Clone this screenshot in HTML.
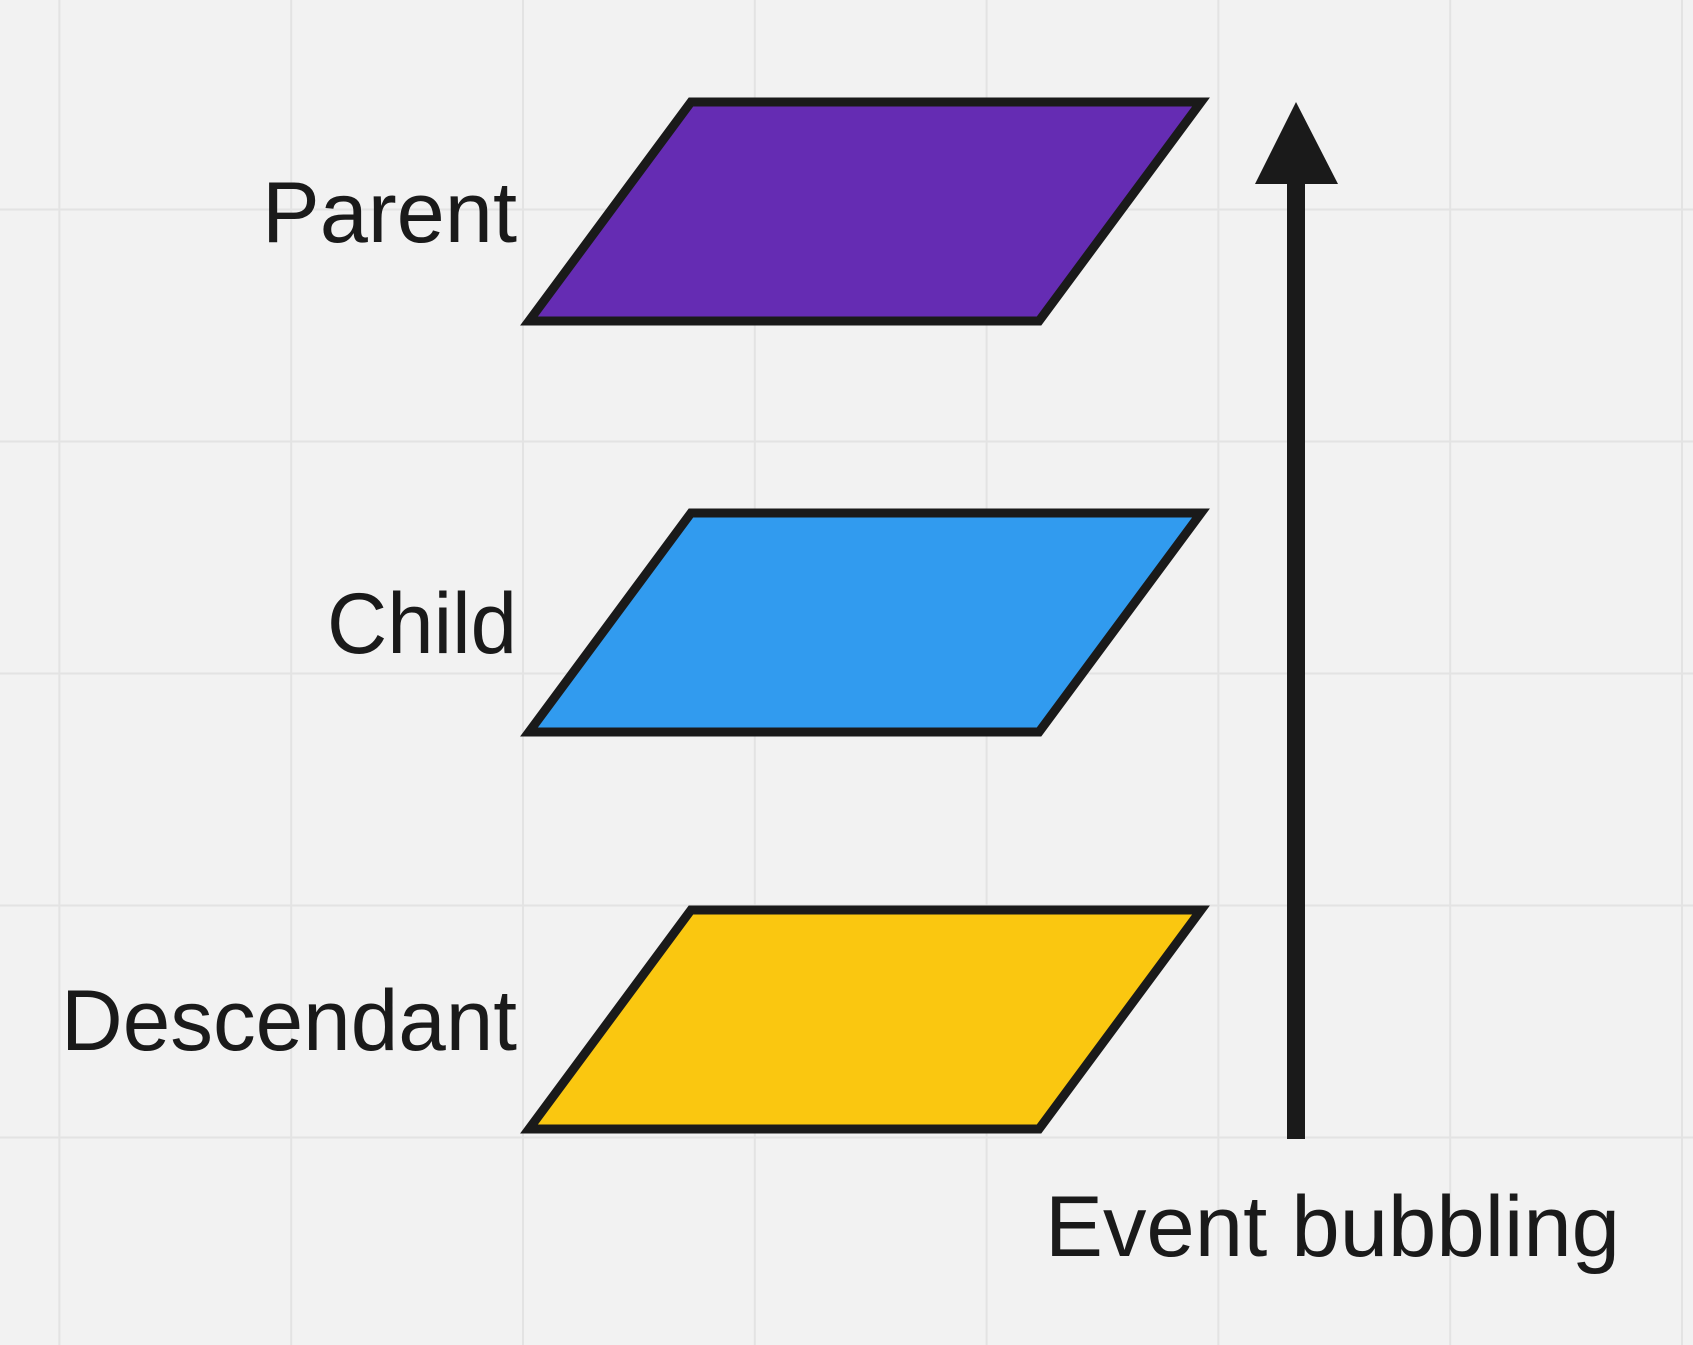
<!DOCTYPE html>
<html>
<head>
<meta charset="utf-8">
<style>
  html,body{margin:0;padding:0;background:#f2f2f2;}
  svg{display:block;}
  text{font-family:"Liberation Sans","DejaVu Sans",sans-serif;fill:#1a1a1a;}
</style>
</head>
<body>
<svg id="chart" width="1693" height="1345" viewBox="0 0 1693 1345" xmlns="http://www.w3.org/2000/svg">
  <rect x="0" y="0" width="1693" height="1345" fill="#f2f2f2"/>
  <g id="grid"></g>
  <g id="layers"></g>
  <g id="arrow">
    <rect x="1287" y="180" width="18" height="959" fill="#1a1a1a"/>
    <polygon points="1296,102 1255,184 1338,184" fill="#1a1a1a"/>
  </g>
  <text x="1045" y="1256" font-size="86" textLength="575" lengthAdjust="spacingAndGlyphs">Event bubbling</text>
</svg>
<script>
const layerNames = ["Parent", "Child", "Descendant"];
const layerColors = ["#652cb3", "#319bef", "#fac710"];
const layerTops = [102, 513, 910];
const labelWidths = [255, 190, 456];

const NS = "http://www.w3.org/2000/svg";
const grid = document.getElementById("grid");
for (let i = 0; i < 8; i++) {
  const x = 59.4 + i * 231.8;
  const l = document.createElementNS(NS, "line");
  
  
  l.setAttribute("x1", x); l.setAttribute("x2", x);
  l.setAttribute("y1", 0); l.setAttribute("y2", 1345);
  l.setAttribute("stroke", "#e3e3e3"); l.setAttribute("stroke-width", "2");
  grid.appendChild(l);
}
for (let i = 0; i < 6; i++) {
  const y = 209.5 + i * 232;
  const l = document.createElementNS(NS, "line");
  
  
  l.setAttribute("x1", 0); l.setAttribute("x2", 1693);
  l.setAttribute("y1", y); l.setAttribute("y2", y);
  l.setAttribute("stroke", "#e3e3e3"); l.setAttribute("stroke-width", "2");
  grid.appendChild(l);
}
const layers = document.getElementById("layers");
const H = 219;
layerNames.forEach((name, i) => {
  const t = layerTops[i], b = t + H;
  const p = document.createElementNS(NS, "polygon");
  
  
  p.setAttribute("points", `691,${t} 1201,${t} 1039,${b} 529,${b}`);
  p.setAttribute("fill", layerColors[i]);
  p.setAttribute("stroke", "#1a1a1a");
  p.setAttribute("stroke-width", "9");
  layers.appendChild(p);
  const tx = document.createElementNS(NS, "text");
  
  
  tx.setAttribute("x", 517 - labelWidths[i]);
  tx.setAttribute("y", t + 140);
  tx.setAttribute("font-size", "86");
  tx.setAttribute("textLength", labelWidths[i]);
  tx.setAttribute("lengthAdjust", "spacingAndGlyphs");
  tx.textContent = name;
  layers.appendChild(tx);
});
</script>
</body>
</html>
